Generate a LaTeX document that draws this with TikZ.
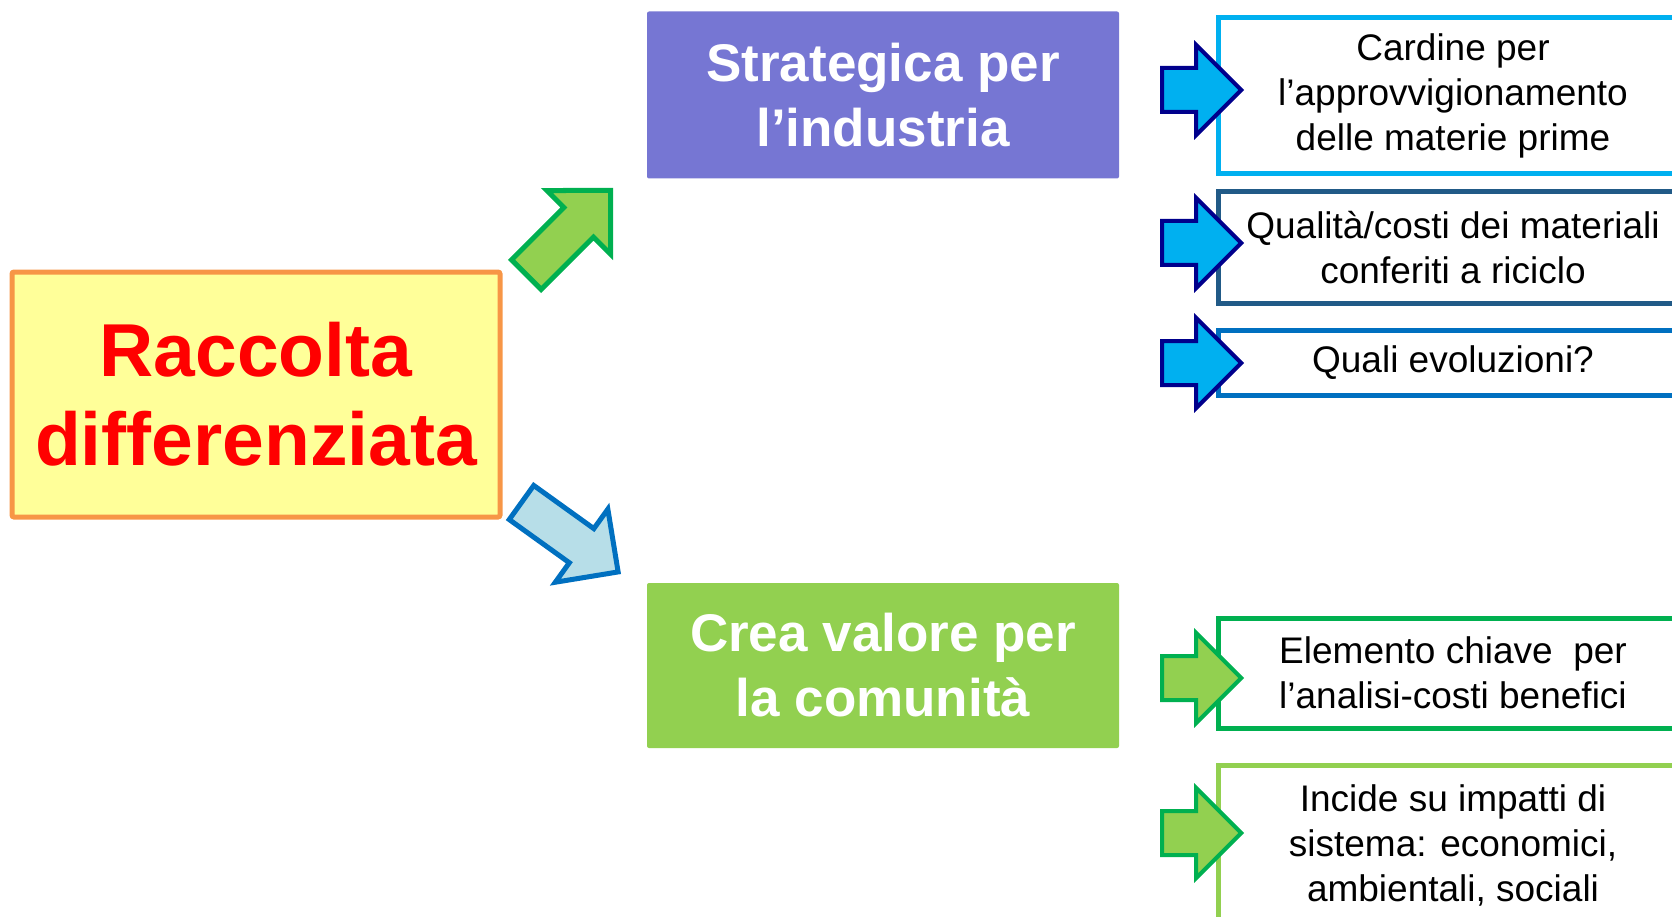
\documentclass[tikz,border=0pt]{standalone}
\usepackage{fontspec}
\setmainfont{Liberation Sans}
\usetikzlibrary{shapes.arrows}
\definecolor{skyb}{HTML}{00B0F0}
\definecolor{navyb}{RGB}{0,0,140}
\definecolor{tealb}{HTML}{215A87}
\definecolor{midb}{HTML}{0070C0}
\definecolor{greenb}{HTML}{00B050}
\definecolor{limeg}{HTML}{92D050}
\definecolor{purp}{RGB}{118,118,211}
\definecolor{paleb}{HTML}{B7DEE8}
\definecolor{yel}{HTML}{FFFF99}
\definecolor{orng}{HTML}{F79646}
\definecolor{redt}{HTML}{FF0000}
\begin{document}
\begin{tikzpicture}[x=1pt,y=-1pt,
  mainbox/.style={rounded corners=2pt, align=center, inner sep=0pt, text=white,
    font=\fontsize{53}{65}\selectfont\bfseries, minimum width=472pt},
  sidebox/.style={draw, fill=white, line width=5pt, align=center, inner sep=0pt,
    font=\fontsize{37}{45}\selectfont, minimum width=470pt},
  sidearrow/.style={single arrow, single arrow tip angle=90, draw=navyb, fill=skyb,
    line width=4pt, single arrow head extend=23pt, inner xsep=0pt, inner ysep=20pt,
    minimum height=79pt, anchor=tip},
  greenarrow/.style={sidearrow, draw=greenb, fill=limeg},
  diagarrow/.style={single arrow, single arrow tip angle=90, line width=5pt,
    single arrow head extend=24pt, inner xsep=0pt, inner ysep=18.5pt,
    minimum height=119pt, anchor=tip}
]
\useasboundingbox (0,0) rectangle (1672,917);
\clip (0,0) rectangle (1672,917);

% main boxes
\node[draw=orng, fill=yel, line width=5pt, rounded corners=2pt, align=center, inner sep=0pt,
  minimum width=488pt, minimum height=245pt, text=redt,
  font=\fontsize{75}{89}\selectfont\bfseries] (rd) at (256,394.5) {Raccolta\\differenziata};
\node[mainbox, fill=purp, minimum height=167pt] (si) at (883,95) {Strategica per\\l’industria};
\node[mainbox, fill=limeg, minimum height=165pt] (cv) at (883,665.5) {Crea valore per\\la comunità};

% side boxes
\node[sidebox, draw=skyb, minimum height=156pt] (b1) at (1453,96) {Cardine per\\l’approvvigionamento\\delle materie prime};
\node[sidebox, draw=tealb, minimum height=111pt] (b2) at (1453,247.5) {Qualità/costi dei materiali\\conferiti a riciclo};
\node[sidebox, draw=midb, minimum height=65pt] (b3) at (1453,362.5) {Quali evoluzioni?};
\node[sidebox, draw=greenb, minimum height=110pt] (b4) at (1453,673) {Elemento chiave~ per\\l’analisi-costi benefici};
\node[sidebox, draw=limeg, minimum height=160pt] (b5) at (1453,845) {Incide su impatti di\\sistema: economici,\\ambientali, sociali};

% side arrows
\node[sidearrow] (a1) at (1244,90) {};
\node[sidearrow] (a2) at (1244,243) {};
\node[sidearrow] (a3) at (1244,363) {};
\node[greenarrow] (a4) at (1244,678) {};
\node[greenarrow] (a5) at (1244,833) {};

% diagonal arrows
\node[diagarrow, draw=greenb, fill=limeg, rotate=45] (up) at (613,188) {};
\node[diagarrow, draw=midb, fill=paleb, rotate=-35.7] (dn) at (621,574) {};
\end{tikzpicture}
\end{document}
